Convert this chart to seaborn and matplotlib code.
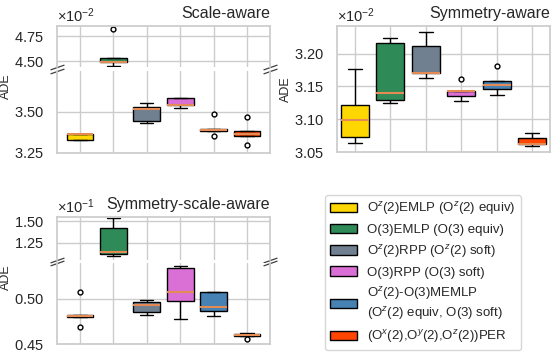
import numpy as np
import pandas as pd
import matplotlib
matplotlib.use("Agg")
import matplotlib.pyplot as plt
from matplotlib.patches import Patch
from matplotlib.ticker import ScalarFormatter, FixedLocator
import seaborn as sns

# Data (ADE per run)

models = ["O$^z$(2)EMLP (O$^z$(2) equiv)",
          "O(3)EMLP (O(3) equiv)",
          "O$^z$(2)RPP (O$^z$(2) soft)",
          "O(3)RPP (O(3) soft)",
          "O$^z$(2)-O(3)MEMLP\n(O$^z$(2) equiv, O(3) soft)",
          "(O$^x$(2),O$^y$(2),O$^z$(2))PER"]
colors = ["#FFD700", "#2E8B57", "#708090", "#DA70D6", "#4682B4", "#FF4500"]

scale_aware = [
    [0.03326, 0.03330, 0.03362, 0.03364, 0.03366],
    [0.04453, 0.04487, 0.04493, 0.04530, 0.04820],
    [0.03432, 0.03442, 0.03516, 0.03526, 0.03550],
    [0.03520, 0.03538, 0.03540, 0.03582, 0.03584],
    [0.03350, 0.03380, 0.03390, 0.03394, 0.03488],
    [0.03300, 0.03352, 0.03366, 0.03380, 0.03466],
]
symmetry_aware = [
    [0.030642, 0.030734, 0.030992, 0.031217, 0.031760],
    [0.031247, 0.031298, 0.031395, 0.032158, 0.032239],
    [0.031624, 0.031705, 0.031708, 0.032122, 0.032336],
    [0.031283, 0.031360, 0.031430, 0.031436, 0.031619],
    [0.031375, 0.031456, 0.031522, 0.031583, 0.031807],
    [0.030586, 0.030617, 0.030622, 0.030714, 0.030790],
]
symmetry_scale_aware = [
    [0.04686, 0.04795, 0.04808, 0.04820, 0.05073],
    [0.1095, 0.1112, 0.1136, 0.1421, 0.1540],
    [0.04822, 0.04856, 0.04937, 0.04962, 0.04992],
    [0.04778, 0.04981, 0.05073, 0.05344, 0.05362],
    [0.04814, 0.04870, 0.04907, 0.05074, 0.05076],
    [0.04559, 0.04594, 0.04597, 0.04614, 0.04626],
]

# Style

sns.set_theme(style="whitegrid")
plt.rcParams["font.family"] = ["Liberation Sans", "DejaVu Sans"]
plt.rcParams["mathtext.fontset"] = "custom"
plt.rcParams["mathtext.rm"] = "Liberation Sans"
plt.rcParams["mathtext.it"] = "Liberation Sans:italic"
plt.rcParams["mathtext.bf"] = "Liberation Sans:bold"
plt.rcParams["axes.formatter.use_mathtext"] = True
plt.rcParams["ytick.labelsize"] = 10.5

W, H = 551, 358
fig = plt.figure(figsize=(W / 100, H / 100), dpi=100)


def box(x, y0, y1):
    # pixel box -> figure fraction
    return [x / W, 1 - y1 / H, 213 / W, (y1 - y0) / H]


def draw(ax, values, ticks, power, ylim):
    df = pd.DataFrame({"model": np.repeat(models, [len(v) for v in values]),
                       "ADE": np.concatenate(values)})
    sns.boxplot(data=df, x="model", y="ADE", hue="model", palette=colors,
                legend=False, width=0.8, saturation=1, linewidth=1,
                linecolor="black", ax=ax,
                medianprops=dict(color="#e38a55", linewidth=1.5),
                flierprops=dict(marker="o", markersize=3.5,
                                markerfacecolor="white",
                                markeredgecolor="black"))
    ax.set_ylim(*ylim)
    ax.xaxis.grid(True)
    ax.tick_params(axis="x", labelbottom=False)
    ax.set_xlabel("")
    ax.set_ylabel("")
    ax.yaxis.set_major_locator(FixedLocator(ticks))
    fmt = ScalarFormatter(useMathText=True)
    fmt.set_powerlimits((power, power))
    ax.yaxis.set_major_formatter(fmt)


def break_marks(top, bottom):
    top.spines["bottom"].set_visible(False)
    bottom.spines["top"].set_visible(False)
    d = 0.35
    kw = dict(marker=[(-1, -d), (1, d)], markersize=10, linestyle="none",
              color="0.25", mec="0.25", mew=0.9, clip_on=False)
    top.plot([0, 1], [0, 0], transform=top.transAxes, **kw)
    bottom.plot([0, 1], [1, 1], transform=bottom.transAxes, **kw)
    bottom.yaxis.get_offset_text().set_visible(False)


# Scale-aware (broken axis)
ax_a1 = fig.add_axes(box(57, 26, 67))
ax_a2 = fig.add_axes(box(57, 71, 153))
draw(ax_a1, scale_aware, [0.045, 0.0475], -2, (0.0444, 0.0485))
draw(ax_a2, scale_aware, [0.0325, 0.035], -2, (0.0325, 0.03745))
break_marks(ax_a1, ax_a2)
ax_a1.set_title("Scale-aware", loc="right", fontsize=11.5)
ax_a2.set_ylabel("ADE", fontsize=9)
ax_a2.yaxis.set_label_coords(-0.21, 0.82)

# Symmetry-aware
ax_b = fig.add_axes(box(337, 26, 152))
draw(ax_b, symmetry_aware, [0.0305, 0.031, 0.0315, 0.032], -2,
     (0.0305, 0.03242))
ax_b.set_title("Symmetry-aware", loc="right", fontsize=11.5)
ax_b.set_ylabel("ADE", fontsize=9)
ax_b.yaxis.set_label_coords(-0.21, 0.5)

# Symmetry-scale-aware (broken axis)
ax_c1 = fig.add_axes(box(57, 217, 260))
ax_c2 = fig.add_axes(box(57, 263, 344))
draw(ax_c1, symmetry_scale_aware, [0.125, 0.15], -1, (0.1044, 0.1552))
draw(ax_c2, symmetry_scale_aware, [0.045, 0.05], -1, (0.045, 0.054))
break_marks(ax_c1, ax_c2)
ax_c1.set_title("Symmetry-scale-aware", loc="right", fontsize=11.5)
ax_c2.set_ylabel("ADE", fontsize=9)
ax_c2.yaxis.set_label_coords(-0.21, 0.83)

# Legend in the empty bottom-right slot
handles = [Patch(facecolor=c, edgecolor="black", linewidth=1, label=m)
           for m, c in zip(models, colors)]
fig.legend(handles=handles, loc="upper left", fontsize=9.5,
           bbox_to_anchor=(325 / W, 1 - 195 / H), borderaxespad=0,
           frameon=True)

fig.savefig("out.png", dpi=100)
